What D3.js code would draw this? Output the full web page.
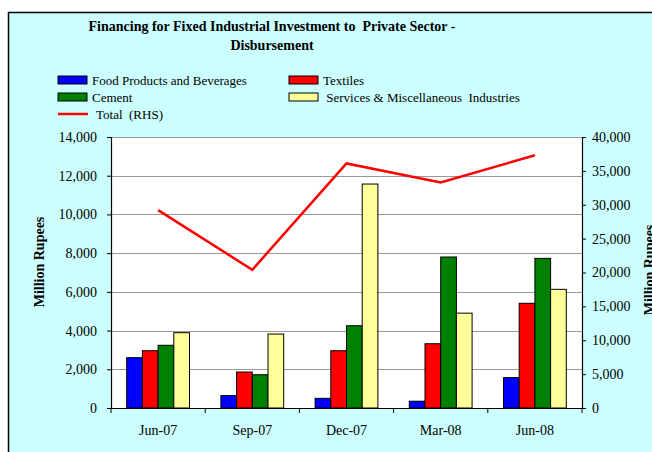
<!DOCTYPE html>
<html lang="en">
<head>
<meta charset="utf-8">
<title>Financing for Fixed Industrial Investment</title>
<script src="https://d3js.org/d3.v7.min.js"></script>
<style>
  body { margin: 0; background: #fff; }
  svg text { font-family: "Liberation Serif", "Times New Roman", serif; fill: #000; white-space: pre; }
  .axis path, .axis line { stroke: #000; }
</style>
</head>
<body>
<div id="chart"></div>
<script>
// quarters
var quarters = ["Jun-07", "Sep-07", "Dec-07", "Mar-08", "Jun-08"];
// bar series (left axis, million rupees)
var foodBev   = [2600, 640, 500, 350, 1570];
var textiles  = [2960, 1860, 2960, 3320, 5410];
var cement    = [3240, 1720, 4250, 7800, 7730];
var services  = [3890, 3820, 11570, 4900, 6130];
// line series (right axis)
var total     = [29200, 20400, 36100, 33300, 37300];

var leftTicks  = d3.range(0, 14001, 2000);
var rightTicks = d3.range(0, 40001, 5000);

var seriesNames = ["Food Products and Beverages", "Textiles", "Cement", " Services & Miscellaneous  Industries"];
var seriesColors = ["#0000ff", "#ff0000", "#008000", "#ffff99"];
var barData = [foodBev, textiles, cement, services];

var W = 652, H = 452;
var plot = {left: 111, right: 582, top: 137, bottom: 408};

var svg = d3.select("#chart").append("svg")
    .attr("width", W).attr("height", H);

// frame
svg.append("rect").attr("x", 8.5).attr("y", 12.5)
    .attr("width", 700).attr("height", 500)
    .attr("fill", "#ccffff").attr("stroke", "#000").attr("stroke-width", 1.5);

// title
svg.append("text").attr("x", 272).attr("y", 31).attr("text-anchor", "middle")
    .style("font-weight", "bold").style("font-size", "14px")
    .text("Financing for Fixed Industrial Investment to  Private Sector -");
svg.append("text").attr("x", 272).attr("y", 50).attr("text-anchor", "middle")
    .style("font-weight", "bold").style("font-size", "14px")
    .text("Disbursement");

// legend
var legendPos = [[58, 80], [289, 80], [58, 97], [289, 97]];
seriesNames.forEach(function(n, i) {
    var p = legendPos[i];
    svg.append("rect").attr("x", p[0]).attr("y", p[1] - 4)
        .attr("width", 29).attr("height", 8)
        .attr("fill", seriesColors[i]).attr("stroke", "#000").attr("stroke-width", 1);
    svg.append("text").attr("x", p[0] + 34).attr("y", p[1] + 5)
        .style("font-size", "13px").text(n);
});
svg.append("line").attr("x1", 58).attr("x2", 88).attr("y1", 114).attr("y2", 114)
    .attr("stroke", "#ff0000").attr("stroke-width", 2.5);
svg.append("text").attr("x", 96).attr("y", 119).style("font-size", "13px").text("Total  (RHS)");

// scales
var x = d3.scaleBand().domain(quarters).range([plot.left, plot.right]);
var yL = d3.scaleLinear().domain([0, 14000]).range([plot.bottom, plot.top]);
var yR = d3.scaleLinear().domain([0, 40000]).range([plot.bottom, plot.top]);

// plot area
svg.append("rect").attr("x", plot.left).attr("y", plot.top)
    .attr("width", plot.right - plot.left).attr("height", plot.bottom - plot.top)
    .attr("fill", "#fff");

// gridlines
svg.append("g").selectAll("line").data(leftTicks.slice(1)).enter().append("line")
    .attr("x1", plot.left).attr("x2", plot.right)
    .attr("y1", function(d) { return Math.round(yL(d)) + 0.5; })
    .attr("y2", function(d) { return Math.round(yL(d)) + 0.5; })
    .attr("stroke", "#999").attr("stroke-width", 1);

// bars
var barW = 15.7;
var groupW = barW * 4;
barData.forEach(function(vals, s) {
    svg.append("g").selectAll("rect").data(vals).enter().append("rect")
        .attr("x", function(d, i) { return x(quarters[i]) + x.bandwidth() / 2 - groupW / 2 + s * barW; })
        .attr("y", function(d) { return yL(d); })
        .attr("width", barW)
        .attr("height", function(d) { return plot.bottom - yL(d); })
        .attr("fill", seriesColors[s]).attr("stroke", "#000").attr("stroke-width", 1);
});

// total line
var line = d3.line()
    .x(function(d, i) { return x(quarters[i]) + x.bandwidth() / 2; })
    .y(function(d) { return yR(d); });
svg.append("path").datum(total).attr("d", line)
    .attr("fill", "none").attr("stroke", "#ff0000").attr("stroke-width", 2.5);

// axes
var fmt = d3.format(",");
svg.append("g").attr("class", "axis")
    .attr("transform", "translate(" + plot.left + ",0)")
    .call(d3.axisLeft(yL).tickValues(leftTicks).tickFormat(fmt).tickSize(4).tickPadding(10));
svg.append("g").attr("class", "axis")
    .attr("transform", "translate(" + plot.right + ",0)")
    .call(d3.axisRight(yR).tickValues(rightTicks).tickFormat(fmt).tickSize(4).tickPadding(6));
svg.append("g").attr("class", "axis")
    .attr("transform", "translate(0," + plot.bottom + ")")
    .call(d3.axisBottom(x).tickSize(0).tickPadding(17));
svg.selectAll(".axis text").style("font-family", "Liberation Serif, serif").style("font-size", "14px");
svg.selectAll(".axis path").attr("stroke-width", 1.2);

// category separators on x axis
svg.append("g").selectAll("line").data(quarters.concat(["end"])).enter().append("line")
    .attr("x1", function(d, i) { return plot.left + i * x.bandwidth(); })
    .attr("x2", function(d, i) { return plot.left + i * x.bandwidth(); })
    .attr("y1", plot.bottom).attr("y2", plot.bottom + 5)
    .attr("stroke", "#000");

// axis titles
svg.append("text").attr("transform", "translate(44,262) rotate(-90)")
    .attr("text-anchor", "middle").style("font-weight", "bold").style("font-size", "14px")
    .text("Million Rupees");
svg.append("text").attr("transform", "translate(654,270) rotate(-90)")
    .attr("text-anchor", "middle").style("font-weight", "bold").style("font-size", "14px")
    .text("Million Rupees");
</script>
</body>
</html>
